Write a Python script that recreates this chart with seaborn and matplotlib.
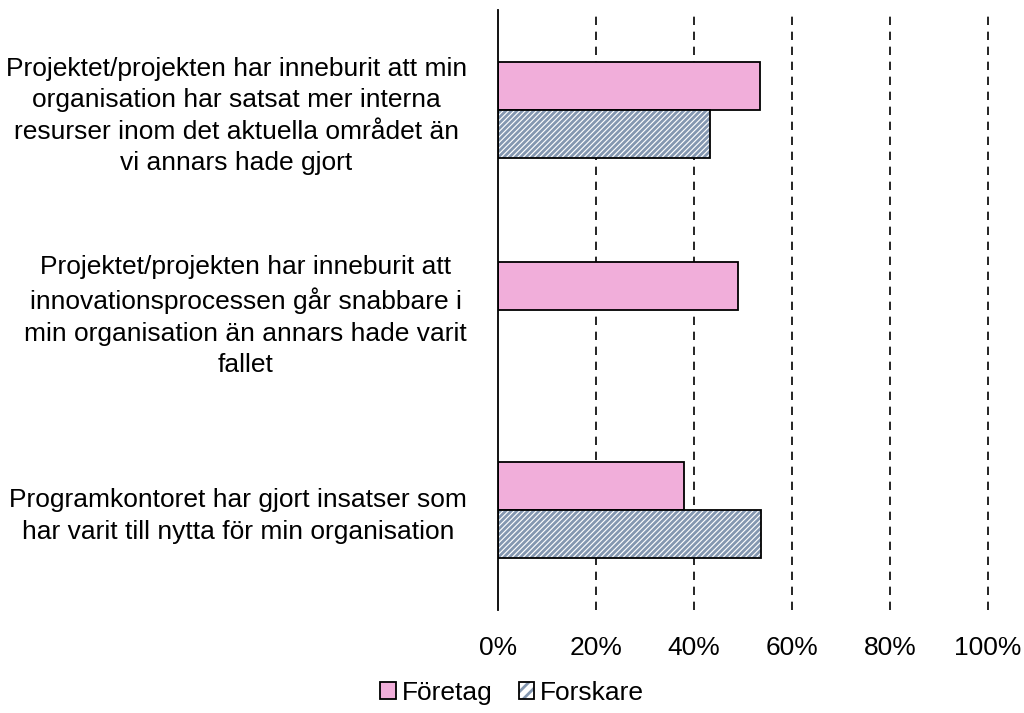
import numpy as np
import pandas as pd
import matplotlib
matplotlib.use("Agg")
import matplotlib.pyplot as plt
import matplotlib.colors as mcolors
from matplotlib.patches import Patch
import seaborn as sns

categories = [
    "Projektet/projekten har inneburit att min\norganisation har satsat mer interna\nresurser inom det aktuella området än\nvi annars hade gjort",
    "Projektet/projekten har inneburit att\ninnovationsprocessen går snabbare i\nmin organisation än annars hade varit\nfallet",
    "Programkontoret har gjort insatser som\nhar varit till nytta för min organisation",
]
series = ["Företag", "Forskare"]
foretag = [53.5, 49.0, 38.0]
forskare = [43.3, np.nan, 53.7]
xticks = [0, 20, 40, 60, 80, 100]

pink = "#F1AEDA"
hatch_col = "#8497B0"

sns.set_theme(style="white")
plt.rcParams["font.family"] = ["Liberation Sans", "DejaVu Sans"]
plt.rcParams["hatch.linewidth"] = 2.0
plt.rcParams["text.color"] = "black"
plt.rcParams["xtick.color"] = "black"
plt.rcParams["ytick.color"] = "black"

df = pd.DataFrame({
    "cat": categories * 2,
    "series": [series[0]] * 3 + [series[1]] * 3,
    "val": foretag + forskare,
})

fig = plt.figure(figsize=(10.24, 7.13), dpi=100)
ax = fig.add_axes([0.486, 0.1445, 0.479, 0.8415])

sns.barplot(data=df, y="cat", x="val", hue="series", orient="h",
            palette=[pink, "white"], width=0.48, ax=ax, legend=False,
            edgecolor="black", linewidth=1.3, saturation=1)

for c, cont in enumerate(ax.containers):
    for p in cont.patches:
        if c == 1:
            p.set_hatch("//////")
            p.set_facecolor("white")
            p.set_edgecolor("black")
            p._hatch_color = mcolors.to_rgba(hatch_col)
        p.set_zorder(3)

ax.set_xlim(0, 100)
ax.set_xticks(xticks)
ax.set_xticklabels([f"{t}%" for t in xticks], fontsize=19)
ax.set_ylim(2.5, -0.5)
ax.tick_params(axis="y", labelsize=19, length=0, pad=22, labelcolor="black")
ax.tick_params(axis="x", length=0, pad=19, labelcolor="black")
for lbl in ax.get_yticklabels():
    lbl.set_multialignment("center")
    lbl.set_linespacing(1.38)
ax.set_xlabel("")
ax.set_ylabel("")

for t in xticks[1:]:
    ax.axvline(t, color="black", linestyle=(0, (5, 4)), linewidth=1.2, zorder=1, clip_on=False)

for s in ["top", "right", "bottom"]:
    ax.spines[s].set_visible(False)
ax.spines["left"].set_color("black")
ax.spines["left"].set_linewidth(1.3)
ax.spines["left"].set_zorder(4)
ax.grid(False)

handles = [
    Patch(facecolor=pink, edgecolor="black", linewidth=1.3, label=series[0]),
    Patch(facecolor="white", edgecolor="black", linewidth=1.3, hatch="///", label=series[1]),
]
leg = fig.legend(handles=handles, loc="lower center", bbox_to_anchor=(0.5, -0.022),
                 ncol=2, frameon=False, fontsize=19, handlelength=0.6,
                 handleheight=0.6, handletextpad=0.2, columnspacing=1.0)
leg.get_patches()[1]._hatch_color = mcolors.to_rgba(hatch_col)

fig.savefig("out.png", dpi=100)
